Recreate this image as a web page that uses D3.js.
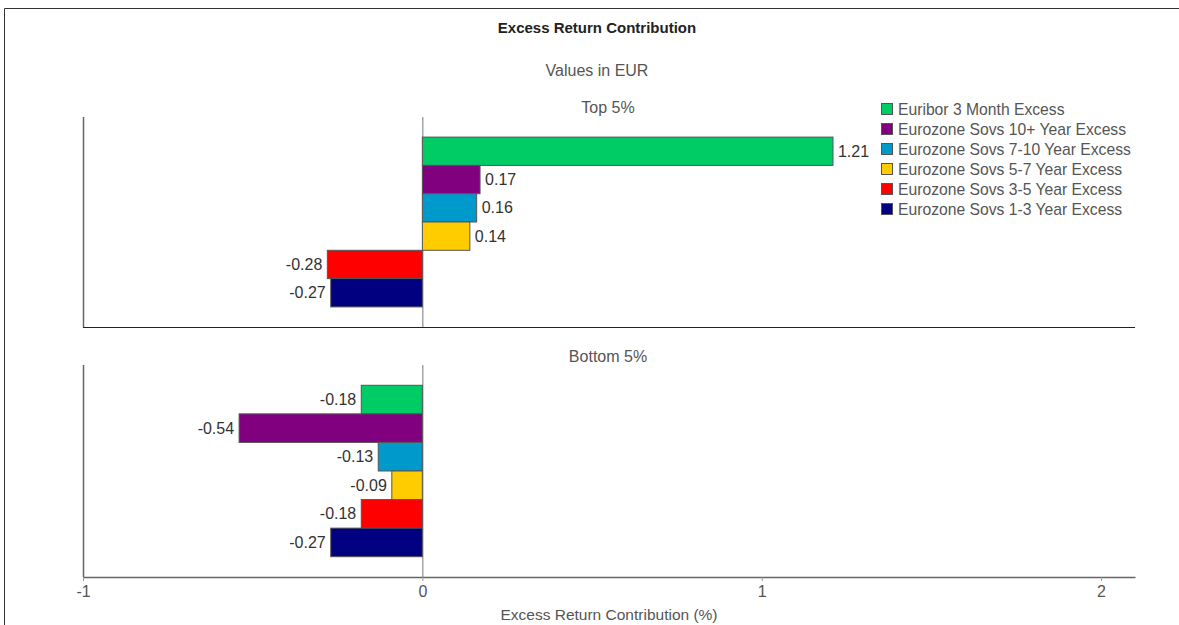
<!DOCTYPE html>
<html lang="en">
<head>
  <meta charset="UTF-8">
  <title>Excess Return Contribution</title>
  <style>
    * { box-sizing: border-box; margin: 0; padding: 0; }
    body { background: #fff; font-family: "Liberation Sans", Arial, sans-serif; }
    svg { display: block; }
  </style>
</head>
<body>
  <svg></svg>
  <script src="https://d3js.org/d3.v7.min.js"></script>
  <script>
    const categories = [
      'Euribor 3 Month Excess',
      'Eurozone Sovs 10+ Year Excess',
      'Eurozone Sovs 7-10 Year Excess',
      'Eurozone Sovs 5-7 Year Excess',
      'Eurozone Sovs 3-5 Year Excess',
      'Eurozone Sovs 1-3 Year Excess'
    ];
    const colors = ['#00cc66', '#800080', '#0099cc', '#ffcc00', '#ff0000', '#000080'];
    const topValues = [1.21, 0.17, 0.16, 0.14, -0.28, -0.27];
    const bottomValues = [-0.18, -0.54, -0.13, -0.09, -0.18, -0.27];
    const xTicks = [-1, 0, 1, 2];
    const panelTitles = ['Top 5%', 'Bottom 5%'];

    const width = 1179;
    const height = 625;
    const svg = d3.select('svg')
      .attr('width', width)
      .attr('height', height);

    // outer frame
    svg.append('path')
      .attr('d', 'M4.5,' + height + 'V8.5H' + width)
      .attr('fill', 'none')
      .attr('stroke', '#333')
      .attr('stroke-width', 1);

    svg.append('text')
      .attr('x', 597).attr('y', 33)
      .attr('text-anchor', 'middle')
      .attr('font-size', 15).attr('font-weight', 'bold')
      .attr('fill', '#222')
      .text('Excess Return Contribution');

    svg.append('text')
      .attr('x', 597).attr('y', 76)
      .attr('text-anchor', 'middle')
      .attr('font-size', 16)
      .attr('fill', '#555')
      .text('Values in EUR');

    const x = d3.scaleLinear().domain([-1, 2.1]).range([83, 1135]);
    const colorScale = d3.scaleOrdinal().domain(categories).range(colors);
    const fmt = v => v.toFixed(2);

    const panels = [
      { title: panelTitles[0], values: topValues, y0: 117, y1: 327, titleY: 113 },
      { title: panelTitles[1], values: bottomValues, y0: 365, y1: 577, titleY: 362 }
    ];

    panels.forEach((p, pi) => {
      const g = svg.append('g');
      const y = d3.scaleBand()
        .domain(categories)
        .range([p.y0, p.y1])
        .paddingInner(0)
        .paddingOuter(0.71);

      g.append('text')
        .attr('x', 608).attr('y', p.titleY)
        .attr('text-anchor', 'middle')
        .attr('font-size', 16)
        .attr('fill', '#555')
        .text(p.title);

      // left axis line
      g.append('line')
        .attr('x1', x(-1) + 0.5).attr('x2', x(-1) + 0.5)
        .attr('y1', p.y0).attr('y2', p.y1)
        .attr('stroke', '#666').attr('stroke-width', 1.5);

      // zero line
      g.append('line')
        .attr('x1', x(0) + 0.5).attr('x2', x(0) + 0.5)
        .attr('y1', p.y0).attr('y2', p.y1)
        .attr('stroke', '#777').attr('stroke-width', 1);

      const data = categories.map((c, i) => ({ cat: c, v: p.values[i] }));

      g.selectAll('rect.bar')
        .data(data)
        .enter()
        .append('rect')
        .attr('class', 'bar')
        .attr('x', d => x(Math.min(0, d.v)))
        .attr('y', d => y(d.cat))
        .attr('width', d => Math.abs(x(d.v) - x(0)))
        .attr('height', y.bandwidth())
        .attr('fill', d => colorScale(d.cat))
        .attr('stroke', '#555')
        .attr('stroke-width', 1);

      g.selectAll('text.val')
        .data(data)
        .enter()
        .append('text')
        .attr('class', 'val')
        .attr('x', d => d.v >= 0 ? x(d.v) + 5 : x(d.v) - 5)
        .attr('y', d => y(d.cat) + y.bandwidth() / 2)
        .attr('dy', '0.35em')
        .attr('text-anchor', d => d.v >= 0 ? 'start' : 'end')
        .attr('font-size', 16)
        .attr('fill', '#333')
        .text(d => fmt(d.v));

      if (pi === 0) {
        g.append('line')
          .attr('x1', x(-1)).attr('x2', x(2.1))
          .attr('y1', p.y1 + 0.5).attr('y2', p.y1 + 0.5)
          .attr('stroke', '#222').attr('stroke-width', 1.2);
      } else {
        const axis = g.append('g')
          .attr('transform', 'translate(0,' + p.y1 + ')')
          .call(d3.axisBottom(x).tickValues(xTicks).tickSize(4).tickSizeOuter(0).tickPadding(5).tickFormat(d => String(d)));
        axis.select('.domain').attr('stroke', '#666').attr('stroke-width', 1.5);
        axis.selectAll('.tick line').attr('stroke', '#999');
        axis.selectAll('.tick text')
          .attr('font-family', '"Liberation Sans", Arial, sans-serif')
          .attr('font-size', 16)
          .attr('fill', '#555');
      }
    });

    svg.append('text')
      .attr('x', 609).attr('y', 620)
      .attr('text-anchor', 'middle')
      .attr('font-size', 15.5)
      .attr('fill', '#555')
      .text('Excess Return Contribution (%)');

    // legend
    const legend = svg.append('g').attr('transform', 'translate(881,103)');
    const items = legend.selectAll('g')
      .data(categories)
      .enter()
      .append('g')
      .attr('transform', (d, i) => 'translate(0,' + i * 20 + ')');
    items.append('rect')
      .attr('x', 0.5).attr('y', 0.5)
      .attr('width', 11).attr('height', 11)
      .attr('fill', d => colorScale(d))
      .attr('stroke', '#555');
    items.append('text')
      .attr('x', 17).attr('y', 6)
      .attr('dy', '0.35em')
      .attr('font-size', 15.7)
      .attr('fill', '#555')
      .text(d => d);
  </script>
</body>
</html>
